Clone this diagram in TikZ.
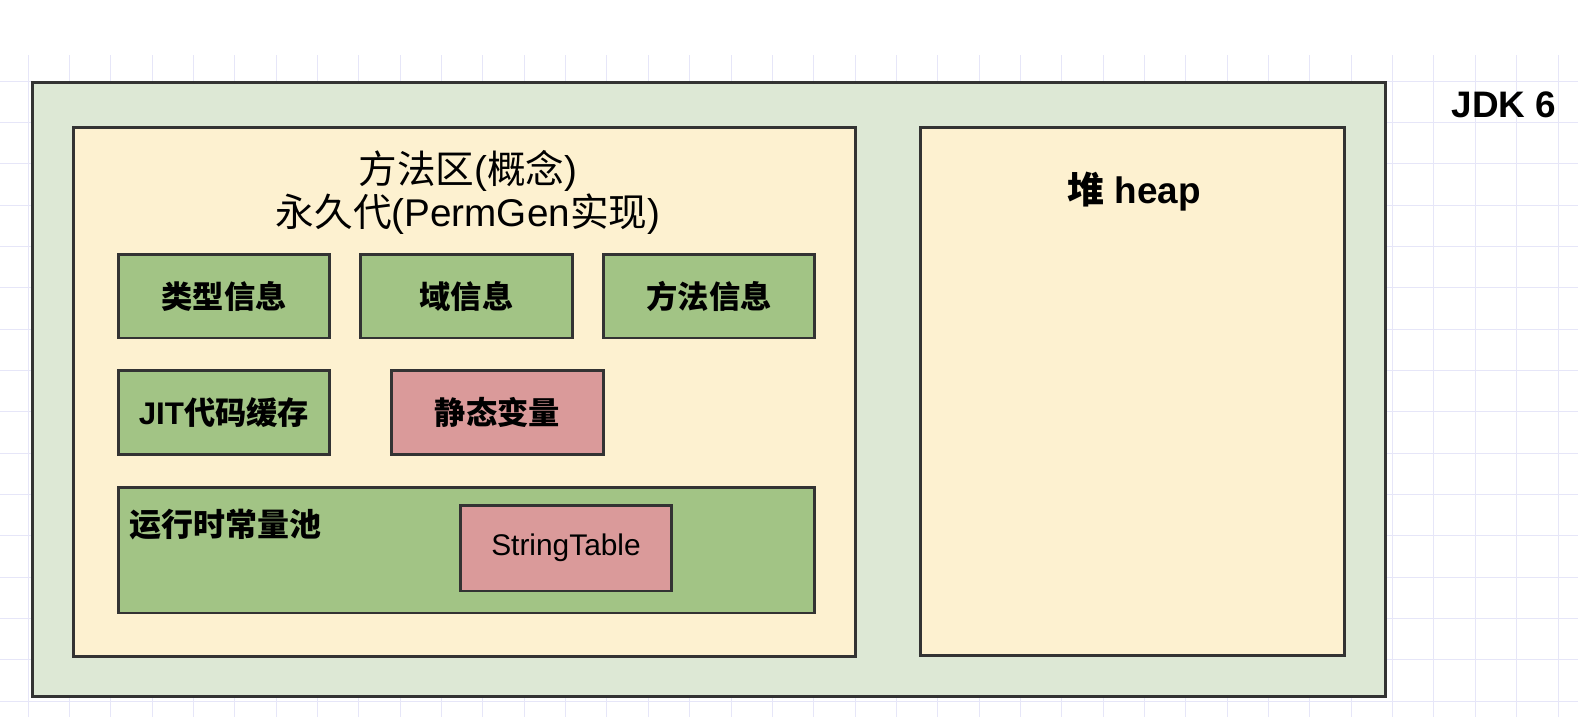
\documentclass[tikz,border=0pt]{standalone}
\usepackage{fontspec}
\setmainfont{Liberation Sans}
\newfontfamily\cjk{Noto Sans CJK SC}
\usepackage{tikz}
\usetikzlibrary{backgrounds}
\definecolor{gridline}{HTML}{E6E6F8}
\definecolor{outerfill}{HTML}{DDE8D5}
\definecolor{areafill}{HTML}{FDF1D0}
\definecolor{infofill}{HTML}{A2C485}
\definecolor{strfill}{HTML}{DA9A9A}
\definecolor{edge}{HTML}{333333}
\tikzstyle{region}=[draw=edge, line width=1.7pt, rectangle, inner sep=0pt]
\tikzstyle{info}=[region, fill=infofill, minimum width=4.24cm, minimum height=1.68cm, font=\fontsize{17.8}{20}\selectfont\bfseries]
\tikzstyle{static}=[info, fill=strfill]

\begin{document}
\begin{tikzpicture}[x=0.02cm, y=-0.02cm]
            \useasboundingbox (0,0) rectangle (1578,717);
            \fill[white] (0,0) rectangle (1578,717);
            % Rejilla
            \foreach \i in {0,...,37} {
                \draw[gridline, line width=0.5pt] ({28+41.35*\i},55) -- ({28+41.35*\i},717);
            }
            \foreach \j in {0,...,15} {
                \draw[gridline, line width=0.5pt] (0,{81+41.35*\j}) -- (1578,{81+41.35*\j});
            }
            % Cajas
            \node[region, fill=outerfill, minimum width=27.08cm, minimum height=12.3cm] (jvm) at (709,389.5) {};
            \node[region, fill=areafill, minimum width=15.66cm, minimum height=10.6cm] (permgen) at (464.5,392) {};
            \node[region, fill=areafill, minimum width=8.5cm, minimum height=10.58cm] (heap) at (1132.5,391.5) {};
            \node[info] (klass) at (224,296) {\cjk 类型信息};
            \node[info] (field) at (466.5,296) {\cjk 域信息};
            \node[info] (method) at (709,296) {\cjk 方法信息};
            \node[info] (jit) at (224,412.5) {JIT{\cjk 代码缓存}};
            \node[static] (statics) at (497.5,412.5) {\cjk 静态变量};
            \node[region, fill=infofill, minimum width=13.94cm, minimum height=2.52cm] (pool) at (466.5,550) {};
            \node[region, fill=strfill, minimum width=4.24cm, minimum height=1.72cm, font=\fontsize{17}{19}\selectfont] (strtable) at (566,548) {StringTable};
            % Textos
            \node[align=center, font=\fontsize{22}{24.5}\selectfont] (title) at (468,192) {{\cjk 方法区}({\cjk 概念})\\{\cjk 永久代}(PermGen{\cjk 实现})};
            \node[anchor=west, inner sep=0pt, font=\fontsize{18.2}{20}\selectfont\bfseries] (poolname) at (129,525) {\cjk 运行时常量池};
            \node[font=\fontsize{21}{24}\selectfont\bfseries] (heapname) at (1134,192) {{\cjk 堆} heap};
            \node[font=\fontsize{21}{24}\selectfont\bfseries] (jdk) at (1504,105) {JDK 6};
        \end{tikzpicture}
\end{document}
